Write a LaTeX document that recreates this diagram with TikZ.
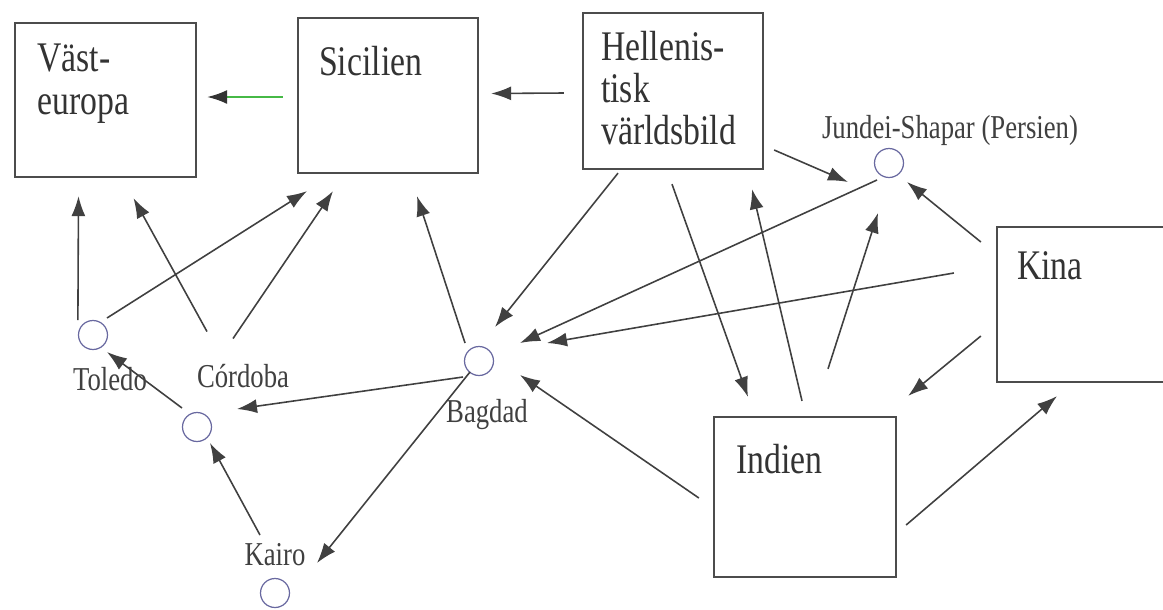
\documentclass[tikz,border=0pt]{standalone}
\usepackage{fontspec}
\setmainfont{Liberation Serif}[FakeStretch=0.8]
\usetikzlibrary{arrows.meta,calc}

\definecolor{townblue}{RGB}{105,105,160}

\tikzset{
  region/.style={draw=black!70, line width=1.3pt, fill=white, inner sep=0pt},
  town/.style={circle, draw=townblue, line width=0.7pt, minimum size=0.58cm, inner sep=0pt},
  boxtext/.style={anchor=north west, inner sep=0pt, align=left, text=black!80,
    font=\fontsize{24}{24}\selectfont},
  townname/.style={anchor=base, inner sep=0pt, text=black!75,
    font=\fontsize{19}{22}\selectfont},
  arr/.style={draw=black!75, line width=0.9pt, -{Latex[length=4mm,width=2.8mm]}},
  greenarr/.style={draw=green!45!gray, line width=1.1pt, -{Latex[length=4mm,width=2.8mm,color=black!80]}},
}

\begin{document}
\begin{tikzpicture}[x=0.02cm, y=-0.02cm]
	\clip (0,0) rectangle (1163,609);
	% regions
	\node[region, minimum width=3.62cm, minimum height=3.08cm] (vast) at (105.5,100) {};
	\node[region, minimum width=3.6cm, minimum height=3.1cm] (sicil) at (388,95.5) {};
	\node[region, minimum width=3.6cm, minimum height=3.12cm] (hell) at (673,91) {};
	\node[region, minimum width=3.6cm, minimum height=3.1cm] (kina) at (1087,304.5) {};
	\node[region, minimum width=3.64cm, minimum height=3.2cm] (indien) at (805,497) {};
	\node[boxtext] (vast-t) at ($(vast.north west)+(23,22)$) {Väst-\\europa};
	\node[boxtext] (sicil-t) at ($(sicil.north west)+(22,29)$) {Sicilien};
	\node[boxtext] (hell-t) at ($(hell.north west)+(19,19)$) {Hellenis-\\tisk\\världsbild};
	\node[boxtext] (kina-t) at ($(kina.north west)+(21,25)$) {Kina};
	\node[boxtext] (indien-t) at ($(indien.north west)+(23,28)$) {Indien};
	% towns
	\node[town] (toledo) at (93,335) {};
	\node[town] (cordoba) at (197,427) {};
	\node[town] (bagdad) at (479,361) {};
	\node[town] (kairo) at (275,593) {};
	\node[town] (jundei) at (889,163) {};
	\node[townname] (toledo-n) at (110,390) {Toledo};
	\node[townname] (cordoba-n) at (243,387) {Córdoba};
	\node[townname] (bagdad-n) at (487,422) {Bagdad};
	\node[townname] (kairo-n) at (275,565) {Kairo};
	\node[townname] (jundei-n) at (950,138) {Jundei-Shapar (Persien)};
	% routes
	\draw[greenarr] ($(sicil.west)+(-14,1.5)$) -- ($(vast.east)+(10,-3)$);
	\draw[arr] ($(hell.west)+(-18,2)$) -- ($(sicil.east)+(12,-2)$);
	\draw[arr] ($(toledo.west)+(0,-15)$) -- ($(vast.south)+(-27,18)$);
	\draw[arr] ($(cordoba-n)+(-36,-44)$) -- ($(vast.south)+(28,20)$);
	\draw[arr] ($(toledo)+(14,-17)$) -- ($(sicil.south)+(-81,17)$);
	\draw[arr] ($(cordoba-n)+(-10,-37)$) -- ($(sicil.south)+(-55,17)$);
	\draw[arr] ($(bagdad)+(-14,-18)$) -- ($(sicil.south)+(29,22)$);
	\draw[arr] ($(hell.south)+(-55,3)$) -- ($(bagdad)+(16,-34)$);
	\draw[arr] ($(jundei)+(-12,17)$) -- ($(bagdad)+(41,-18)$);
	\draw[arr] ($(kina.west)+(-42,-31.5)$) -- ($(bagdad)+(68,-18)$);
	\draw[arr] ($(indien.west)+(-14,1)$) -- ($(bagdad)+(41,14)$);
	\draw[arr] ($(hell.south)+(-1,14)$) -- ($(indien.north)+(-57,-19)$);
	\draw[arr] ($(indien.north)+(-3,-15)$) -- ($(hell.south)+(79,19)$);
	\draw[arr] ($(indien.north)+(23,-47)$) -- ($(jundei)+(-11,50)$);
	\draw[arr] ($(hell.east)+(10,59)$) -- ($(jundei)+(-41,19)$);
	\draw[arr] ($(kina.west)+(-15,-62.5)$) -- ($(jundei)+(18,19)$);
	\draw[arr] ($(kina.west)+(-15,31.5)$) -- ($(indien.north east)+(11,-20)$);
	\draw[arr] ($(indien.east)+(9,28)$) -- ($(kina.south)+(-30,13)$);
	\draw[arr] ($(bagdad)+(-16,16)$) -- ($(cordoba)+(40,-18)$);
	\draw[arr] ($(bagdad)+(-9,11)$) -- ($(kairo)+(42,-30)$);
	\draw[arr] ($(kairo)+(-15,-58)$) -- ($(cordoba)+(13,16)$);
	\draw[arr] ($(cordoba)+(-15,-19)$) -- ($(toledo)+(14,17)$);
\end{tikzpicture}
\end{document}
